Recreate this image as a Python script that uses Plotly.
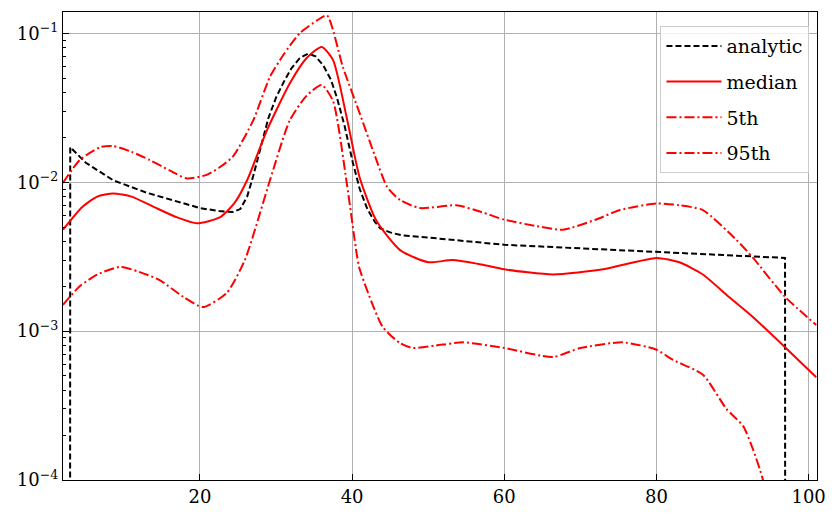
import plotly.graph_objects as go

# analytic curve (zero outside its support, drawn as a tiny value below the axis)
x_analytic = [2.9, 2.95, 5.0, 8.6, 13.0, 17.0, 20.0, 22.5, 24.3, 25.3, 26.2, 27.0, 28.0, 29.0, 30.0, 31.0,
              32.0, 33.1, 34.2, 35.2, 36.2, 37.2, 38.0, 39.0, 40.1, 41.0, 42.0, 43.0, 43.7, 45.0, 46.5, 48.9,
              60.0, 70.0, 80.0, 90.0, 96.9, 96.95]
y_analytic = [1e-9, 0.0172, 0.0135, 0.0103, 0.0085, 0.0074, 0.0067, 0.0064, 0.0063, 0.0066, 0.0080, 0.0110,
              0.017, 0.027, 0.037, 0.047, 0.058, 0.068, 0.073, 0.070, 0.061, 0.049, 0.037, 0.024, 0.0135,
              0.0090, 0.0066, 0.0054, 0.0049, 0.0046, 0.0044, 0.0043, 0.0038, 0.0036, 0.0034, 0.0032,
              0.0031, 1e-9]

x_median = [2, 4.5, 6.5, 8.6, 11, 14, 17, 19.6, 22.6, 24.5, 26.2, 28.8, 31.8, 34.0, 36.0, 37.5, 39.3, 41.0,
            43.2, 46.3, 50.0, 53.2, 57.0, 60.0, 66.4, 73.0, 80.0, 83.0, 86.1, 89.5, 92.7, 96.9, 101]
y_median = [0.0048, 0.0068, 0.0080, 0.0084, 0.0080, 0.0068, 0.0058, 0.0053, 0.0058, 0.0072, 0.0103, 0.0223,
            0.046, 0.068, 0.081, 0.066, 0.027, 0.0107, 0.0055, 0.0035, 0.0029, 0.0030, 0.0028, 0.0026,
            0.0024, 0.0026, 0.0031, 0.0029, 0.0024, 0.0017, 0.00124, 0.00078, 0.00049]

x_p5 = [2, 4.2, 6.5, 9.5, 12.0, 14.7, 17.8, 20.4, 23.5, 25.9, 29.2, 31.8, 34.0, 36.0, 37.5, 39.3, 40.6, 41.0,
        44.0, 46.3, 48.0, 51.0, 54.6, 60.0, 66.4, 70.0, 75.6, 80.0, 82.2, 86.1, 89.2, 91.4, 92.7, 94.0, 95.0]
y_p5 = [0.0015, 0.0020, 0.0024, 0.0027, 0.0025, 0.0022, 0.0017, 0.00145, 0.0018, 0.0030, 0.0103, 0.026,
        0.038, 0.045, 0.035, 0.0098, 0.0033, 0.0026, 0.00107, 0.00083, 0.00077, 0.00080, 0.00084, 0.00077,
        0.00067, 0.00077, 0.00084, 0.00075, 0.00064, 0.00051, 0.00030, 0.00023, 0.00016, 0.0001, 0.00005]

x_p95 = [2, 4.2, 6.9, 8.6, 11.0, 13.4, 16.0, 18.3, 20.9, 22.5, 24.3, 27.0, 29.2, 31.0, 33.1, 35.4, 36.7,
         38.8, 41.0, 43.0, 44.6, 46.3, 48.9, 53.7, 57.0, 60.0, 64.0, 67.7, 72.0, 75.2, 80.0, 83.0, 86.1,
         90.5, 92.7, 96.9, 101]
y_p95 = [0.0099, 0.0141, 0.0172, 0.0175, 0.0160, 0.0141, 0.0120, 0.0106, 0.0112, 0.0125, 0.0148, 0.026,
         0.051, 0.072, 0.100, 0.122, 0.132, 0.059, 0.029, 0.0150, 0.0093, 0.0076, 0.0067, 0.0070, 0.0063,
         0.0056, 0.0051, 0.0048, 0.0056, 0.0065, 0.0072, 0.0070, 0.0065, 0.0041, 0.0031, 0.0017, 0.0011]

x_ticks = [20, 40, 60, 80, 100]
y_ticks = [1e-4, 1e-3, 1e-2, 1e-1]
y_tick_text = ["10<sup>−4</sup>", "10<sup>−3</sup>", "10<sup>−2</sup>", "10<sup>−1</sup>"]
y_minor = [m * 10 ** e for e in range(-4, 0) for m in range(2, 10)]

RED = "#ff0000"
DASHDOT = "10px,3px,2px,3px"
SERIF = "DejaVu Serif"

fig = go.Figure()
fig.add_trace(go.Scatter(x=x_analytic, y=y_analytic, mode="lines", name="analytic", legendgroup="a",
                         line=dict(color="black", width=2, dash="6px,3px")))
fig.add_trace(go.Scatter(x=x_median, y=y_median, mode="lines", name="median", legendgroup="b",
                         line=dict(color=RED, width=2, shape="spline", smoothing=0.6)))
fig.add_trace(go.Scatter(x=x_p5, y=y_p5, mode="lines", name="5th", legendgroup="c",
                         line=dict(color=RED, width=2, dash=DASHDOT, shape="spline", smoothing=0.6)))
fig.add_trace(go.Scatter(x=x_p95, y=y_p95, mode="lines", name="95th", legendgroup="d",
                         line=dict(color=RED, width=2, dash=DASHDOT, shape="spline", smoothing=0.6)))

axis_font = dict(family=SERIF, size=18, color="black")

# the page body adds an 8px margin, so the figure is a little smaller than the window
fig.update_layout(
    width=821, height=503,
    margin=dict(l=55, r=12, t=4, b=31, autoexpand=False),
    plot_bgcolor="white", paper_bgcolor="white",
    font=axis_font,
    showlegend=True,
    legend=dict(x=0.99, y=0.97, xanchor="right", yanchor="top",
                bgcolor="rgba(255,255,255,0.8)", bordercolor="#cccccc", borderwidth=1,
                font=dict(family=SERIF, size=19, color="black"),
                itemwidth=55, tracegroupgap=8),
)
fig.update_xaxes(
    range=[2, 101.1], tickvals=x_ticks, ticks="inside", ticklen=6, tickcolor="black",
    showline=True, linecolor="black", linewidth=1.2, mirror=True, automargin=False,
    showgrid=True, gridcolor="#b0b0b0", gridwidth=1, zeroline=False, tickfont=axis_font,
)
fig.update_yaxes(
    type="log", range=[-4, -0.857], tickvals=y_ticks, ticktext=y_tick_text,
    ticks="inside", ticklen=6, tickcolor="black", automargin=False,
    minor=dict(tickvals=y_minor, ticks="inside", ticklen=3, tickcolor="black", showgrid=False),
    showline=True, linecolor="black", linewidth=1.2, mirror=True,
    showgrid=True, gridcolor="#b0b0b0", gridwidth=1, zeroline=False, tickfont=axis_font,
)

fig.write_html("out.html")
